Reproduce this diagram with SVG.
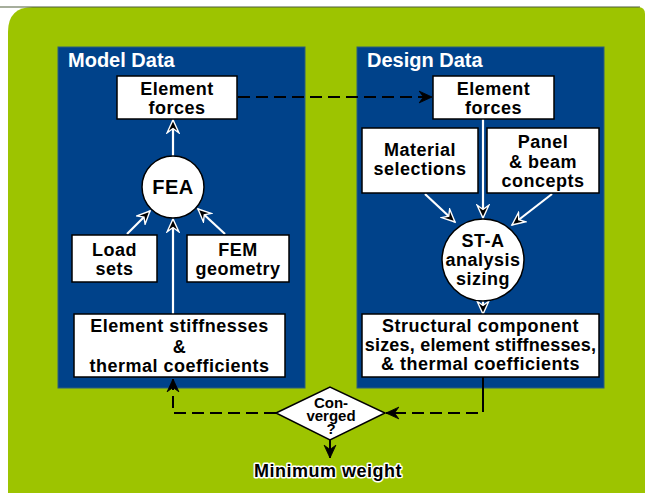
<svg xmlns="http://www.w3.org/2000/svg" width="645" height="493" viewBox="0 0 645 493">
<style>
.t{font-family:"Liberation Sans",Arial,sans-serif;font-weight:bold;text-anchor:middle;fill:#000;font-size:18px;letter-spacing:0.5px}
.c{font-size:15px;letter-spacing:0}
.title{font-family:"Liberation Sans",Arial,sans-serif;font-weight:bold;fill:#fff;font-size:20px}
.box{fill:#fff;stroke:#000;stroke-width:1.5}
.panel{fill:#00428A;stroke:#2D5E7A;stroke-width:1}
.wl{stroke:#fff;stroke-width:2.2;fill:none;marker-end:url(#wa)}
.dl{stroke:#000;stroke-width:2;fill:none;stroke-dasharray:12 6}
</style>
<defs>
<marker id="wa" markerUnits="userSpaceOnUse" markerWidth="16" markerHeight="14" viewBox="-1 -1 15 13" refX="12" refY="5.5" orient="auto">
<path d="M0,0 L12,5.5 L0,11 L4,5.5 Z" fill="#000" stroke="#fff" stroke-width="1.3" stroke-linejoin="miter"/>
</marker>
<marker id="ba" markerUnits="userSpaceOnUse" markerWidth="16" markerHeight="14" viewBox="-1 -1 15 13" refX="12" refY="5.5" orient="auto">
<path d="M0,0 L12,5.5 L0,11 L4,5.5 Z" fill="#000" stroke="#000" stroke-width="0.8"/>
</marker>
</defs>
<rect width="645" height="493" fill="#fff"/>
<path d="M33,7 L638,7 Q645,7 645,14 L645,493 L8,493 L8,32 Q8,7 33,7 Z" fill="#9DC400"/>
<line x1="0" y1="7" x2="640" y2="7" stroke="#4F5F3A" stroke-width="1.2"/>

<g id="model-panel">
<rect class="panel" x="58" y="47" width="247" height="341"/>
<text class="title" x="68" y="67">Model Data</text>
</g>
<g id="design-panel">
<rect class="panel" x="357" y="47" width="247" height="341"/>
<text class="title" x="367" y="67">Design Data</text>
</g>

<g id="connectors">
<line class="wl" x1="173" y1="156" x2="173" y2="120"/>
<line class="wl" x1="127" y1="234" x2="150" y2="211"/>
<line class="wl" x1="225" y1="234" x2="198" y2="209"/>
<line class="wl" x1="173" y1="314" x2="173" y2="219"/>
<line class="wl" x1="483" y1="119" x2="483" y2="218"/>
<line class="wl" x1="425" y1="194" x2="455" y2="222"/>
<line class="wl" x1="552" y1="194" x2="512" y2="225"/>
<line class="wl" x1="483" y1="301" x2="483" y2="314"/>
<line class="dl" x1="238" y1="97" x2="432" y2="97" marker-end="url(#ba)"/>
<line x1="483" y1="377" x2="483" y2="400" stroke="#000" stroke-width="2"/>
<polyline class="dl" points="483,400 483,413 386,413" marker-end="url(#ba)"/>
<polyline class="dl" points="276,413 173,413 173,379" marker-end="url(#ba)"/>
<line x1="330" y1="440" x2="330" y2="458" stroke="#000" stroke-width="2" marker-end="url(#ba)"/>
</g>

<g id="model-element-forces">
<rect class="box" x="117" y="76" width="120" height="43"/>
<text class="t" x="177" y="95">Element</text>
<text class="t" x="177" y="114">forces</text>
</g>
<g id="fea">
<circle cx="173" cy="187" r="31" fill="#fff" stroke="#000" stroke-width="1.5"/>
<text class="t" x="173" y="194" style="font-size:20px">FEA</text>
</g>
<g id="load-sets">
<rect class="box" x="72" y="235" width="85" height="47"/>
<text class="t" x="114.5" y="256">Load</text>
<text class="t" x="114.5" y="275">sets</text>
</g>
<g id="fem-geometry">
<rect class="box" x="187" y="235" width="102" height="47"/>
<text class="t" x="238" y="256">FEM</text>
<text class="t" x="238" y="275">geometry</text>
</g>
<g id="element-stiffnesses">
<rect class="box" x="74" y="314" width="211" height="63"/>
<text class="t" x="179.5" y="332">Element stiffnesses</text>
<text class="t" x="179.5" y="353">&amp;</text>
<text class="t" x="179.5" y="372">thermal coefficients</text>
</g>

<g id="design-element-forces">
<rect class="box" x="433" y="76" width="121" height="43"/>
<text class="t" x="493.5" y="95">Element</text>
<text class="t" x="493.5" y="114">forces</text>
</g>
<g id="material-selections">
<rect class="box" x="362" y="128" width="116" height="65"/>
<text class="t" x="420" y="156">Material</text>
<text class="t" x="420" y="175">selections</text>
</g>
<g id="panel-beam">
<rect class="box" x="487" y="128" width="112" height="65"/>
<text class="t" x="543" y="148">Panel</text>
<text class="t" x="543" y="168">&amp; beam</text>
<text class="t" x="543" y="187">concepts</text>
</g>
<g id="st-a">
<circle cx="483" cy="260" r="41" fill="#fff" stroke="#000" stroke-width="1.5"/>
<text class="t" x="483" y="247">ST-A</text>
<text class="t" x="483" y="266">analysis</text>
<text class="t" x="483" y="285">sizing</text>
</g>
<g id="structural-component">
<rect class="box" x="362" y="314" width="237" height="63"/>
<text class="t" x="480.5" y="332">Structural component</text>
<text class="t" x="480.5" y="351" style="letter-spacing:0.2px">sizes, element stiffnesses,</text>
<text class="t" x="480.5" y="370">&amp; thermal coefficients</text>
</g>
<g id="converged">
<polygon points="276,413 330,387 385,413 330,440" fill="#fff" stroke="#000" stroke-width="1.5"/>
<text class="t c" x="331" y="408">Con-</text>
<text class="t c" x="331" y="421">verged</text>
<text class="t c" x="331" y="434">?</text>
</g>
<g id="minimum-weight">
<text class="t" x="328" y="477" style="stroke:#fff;stroke-width:3;paint-order:stroke;stroke-linejoin:round">Minimum weight</text>
</g>
</svg>
